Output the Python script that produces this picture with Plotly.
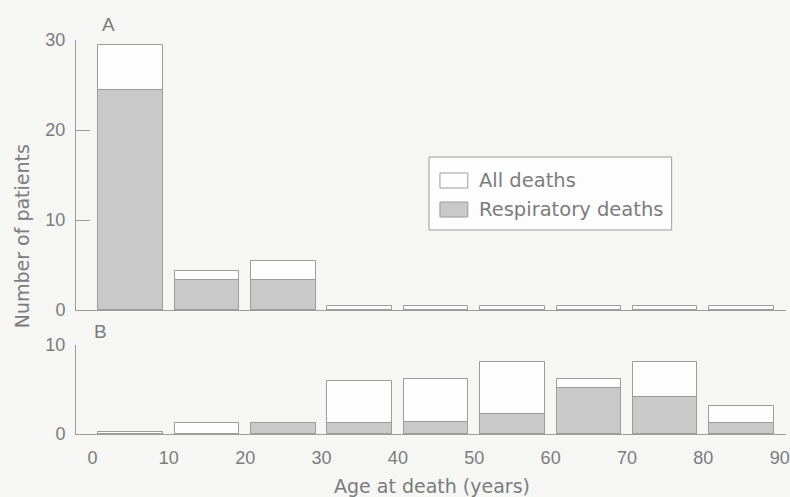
import plotly.graph_objects as go

# ---- data ----
age_mid = [5, 15, 25, 35, 45, 55, 65, 75, 85]
age_ticks = [0, 10, 20, 30, 40, 50, 60, 70, 80, 90]
a_all = [29.4, 4.3, 5.4, 0.4, 0.4, 0.4, 0.4, 0.4, 0.4]
a_resp = [24.4, 3.3, 3.3, 0, 0, 0, 0, 0, 0]
b_all = [0.2, 1.2, 1.2, 6.0, 6.2, 8.1, 6.2, 8.1, 3.2]
b_resp = [0, 0, 1.2, 1.2, 1.3, 2.2, 5.2, 4.2, 1.2]
a_yticks = [0, 10, 20, 30]
b_yticks = [0, 10]

# ---- style ----
W, H = 790, 497
L, R, T, B = 76, 0, 40, 63
BG = "#f6f6f4"
WHITE = "#fdfdfd"
GREY = "#c9c9c9"
LINE = "#9c9c9c"
TXT = "#7c7c7c"
TICKFONT = "Liberation Sans, Arial, Helvetica, sans-serif"
TITLEFONT = "DejaVu Sans, Verdana, sans-serif"
BAR_W = 8.46


def px(xp, yp):
    """reference-picture pixel -> paper coords"""
    return (xp - L) / (W - L - R), (H - B - yp) / (H - T - B)


domA = [px(0, 310)[1], 1.0]
domB = [0.0, px(0, 345)[1]]

fig = go.Figure()
bar_line = dict(color=LINE, width=1)
for xa, ya, allv, respv in [("x2", "y2", a_all, a_resp), ("x", "y", b_all, b_resp)]:
    fig.add_trace(go.Bar(x=age_mid, y=allv, width=BAR_W, xaxis=xa, yaxis=ya,
                         marker=dict(color=WHITE, line=bar_line),
                         name="All deaths", showlegend=False))
    fig.add_trace(go.Bar(x=age_mid, y=respv, width=BAR_W, xaxis=xa, yaxis=ya,
                         marker=dict(color=GREY, line=bar_line),
                         name="Respiratory deaths", showlegend=False))

xr = [-2.15, 90.82]
common_x = dict(range=xr, showline=True, linecolor=LINE, linewidth=1,
                showgrid=False, zeroline=False, ticks="", fixedrange=True)
common_y = dict(showline=True, linecolor=LINE, linewidth=1, showgrid=False,
                zeroline=False, ticks="inside", ticklen=14, tickcolor=LINE,
                tickwidth=1, ticklabelstandoff=6, fixedrange=True,
                tickfont=dict(size=18, color=TXT, family=TICKFONT))

fig.update_layout(
    width=W, height=H,
    margin=dict(l=L, r=R, t=T, b=B, pad=0),
    paper_bgcolor=BG, plot_bgcolor=BG,
    barmode="overlay", bargap=0,
    font=dict(family=TICKFONT, color=TXT, size=18),
    xaxis=dict(**common_x, anchor="y", domain=[0, 1],
               tickvals=age_ticks, ticktext=[str(v) for v in age_ticks],
               tickfont=dict(size=18, color=TXT, family=TICKFONT),
               ticklabelstandoff=7, ticklabeloverflow="allow"),
    xaxis2=dict(**common_x, anchor="y2", domain=[0, 1], showticklabels=False),
    yaxis=dict(**common_y, anchor="x", domain=domB, range=[0, 10],
               tickvals=b_yticks),
    yaxis2=dict(**common_y, anchor="x2", domain=domA, range=[0, 30],
                tickvals=a_yticks),
)

ann = []
def add_text(text, xr_, yr_, size=19, angle=0, xanchor="center", family=TITLEFONT):
    x, y = px(xr_, yr_)
    ann.append(dict(text=text, x=x, y=y, xref="paper", yref="paper",
                    showarrow=False, xanchor=xanchor, yanchor="middle",
                    textangle=angle, font=dict(size=size, color=TXT, family=family)))

add_text("A", 109, 25, size=19, family=TICKFONT)
add_text("B", 101, 331, size=19, family=TICKFONT)
add_text("Number of patients", 22, 236, size=19, angle=-90)
add_text("Age at death (years)", 434, 486, size=19)

# legend (drawn manually to match the wide swatches)
shapes = []
def add_rect(x0, y0, x1, y1, fill, line):
    a0, b0 = px(x0, y0)
    a1, b1 = px(x1, y1)
    shapes.append(dict(type="rect", xref="paper", yref="paper",
                       x0=a0, y0=b1, x1=a1, y1=b0,
                       fillcolor=fill, line=dict(color=line, width=1)))

add_rect(431, 157, 675, 230, WHITE, LINE)
add_rect(442, 173, 470, 188, WHITE, LINE)
add_rect(442, 202, 470, 217, GREY, LINE)
add_text("All deaths", 479, 180.5, size=19.5, xanchor="left")
add_text("Respiratory deaths", 479, 209.5, size=19.5, xanchor="left")

fig.update_layout(annotations=ann, shapes=shapes)
fig.write_html(
    "out.html",
    config={"displayModeBar": False},
    post_script="document.body.style.margin='0';document.body.style.overflow='hidden';",
)
